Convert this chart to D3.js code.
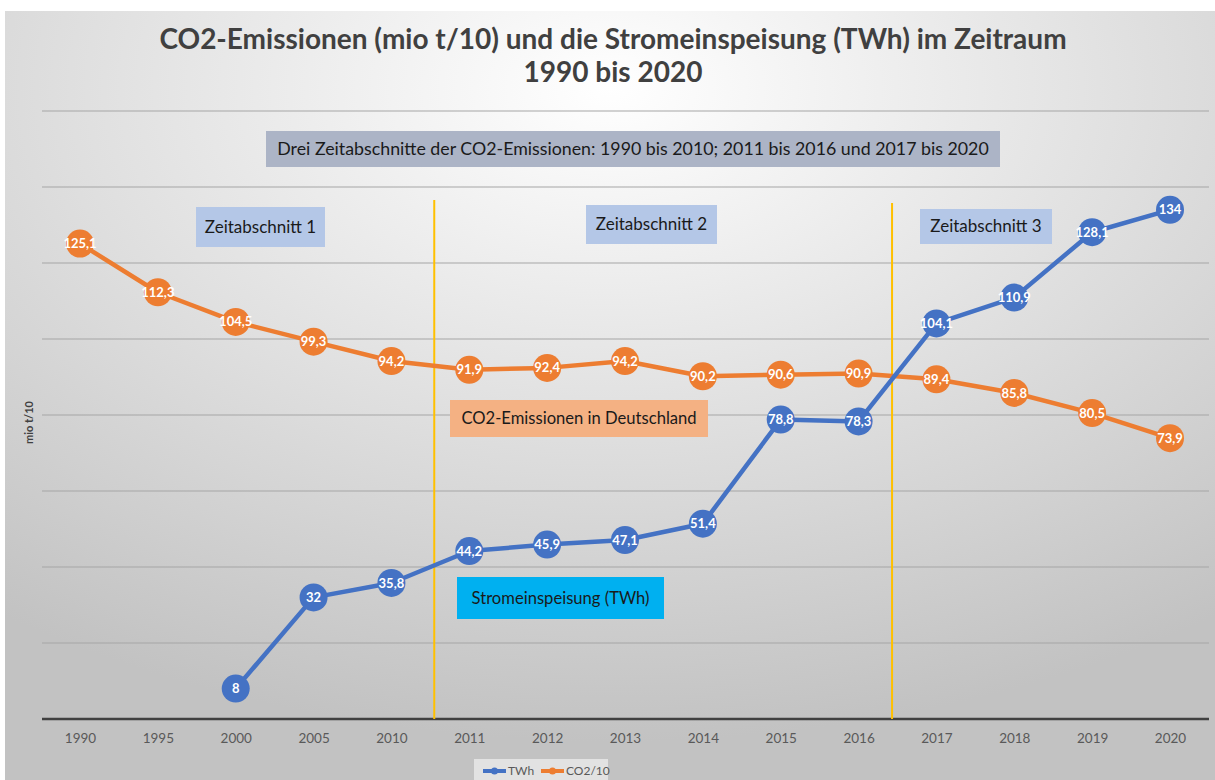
<!DOCTYPE html>
<html>
<head>
<meta charset="utf-8">
<script src="https://cdn.jsdelivr.net/npm/d3@7"></script>
<style>
  body { margin: 0; background: #fff; }
  text { font-family: Lato, "Open Sans", sans-serif; }
</style>
</head>
<body>
<div class="main"></div>
<script>
var years = ["1990","1995","2000","2005","2010","2011","2012","2013","2014","2015","2016","2017","2018","2019","2020"];
var twh = [null, null, 8, 32, 35.8, 44.2, 45.9, 47.1, 51.4, 78.8, 78.3, 104.1, 110.9, 128.1, 134];
var co2 = [125.1, 112.3, 104.5, 99.3, 94.2, 91.9, 92.4, 94.2, 90.2, 90.6, 90.9, 89.4, 85.8, 80.5, 73.9];
var yTicks = [0, 20, 40, 60, 80, 100, 120, 140, 160];

var width = 1215;
var height = 780;
var blue = "#4472c4";
var orange = "#ed7d31";

var svg = d3.select(".main")
    .append("svg")
        .attr("width", width)
        .attr("height", height);

var defs = svg.append("defs");
var grad = defs.append("radialGradient")
    .attr("id", "bg")
    .attr("cx", "50%").attr("cy", "10%").attr("r", "85%");
grad.append("stop").attr("offset", "0%").attr("stop-color", "#ffffff");
grad.append("stop").attr("offset", "100%").attr("stop-color", "#c2c2c2");

svg.append("rect")
    .attr("x", 5).attr("y", 11)
    .attr("width", width - 5).attr("height", height - 11)
    .style("fill", "url(#bg)");

// title
var title = svg.append("text")
    .attr("text-anchor", "middle")
    .style("font-size", "28px")
    .style("font-weight", "bold")
    .style("fill", "#404040");
title.append("tspan").attr("x", 613).attr("y", 49)
    .text("CO2-Emissionen (mio t/10) und die Stromeinspeisung (TWh) im Zeitraum");
title.append("tspan").attr("x", 613).attr("y", 82)
    .text("1990 bis 2020");

var xScale = d3.scalePoint()
    .domain(years)
    .range([80, 1170]);
var step = xScale.step();

var yScale = d3.scaleLinear()
    .domain([0, 160])
    .range([719, 111]);

// gridlines
svg.append("g").selectAll("line")
    .data(yTicks.slice(1))
    .enter()
    .append("line")
    .attr("x1", 42).attr("x2", 1209)
    .attr("y1", d => yScale(d)).attr("y2", d => yScale(d))
    .style("stroke", "#a6a6a6")
    .style("stroke-width", 1.2);

// x axis
var xAxis = d3.axisBottom(xScale).tickSize(0).tickPadding(14);
var xAxisGroup = svg.append("g")
    .attr("transform", "translate(0," + yScale(0) + ")")
    .call(xAxis);
xAxisGroup.select(".domain").remove();
xAxisGroup.selectAll("text")
    .style("font-size", "13.5px")
    .style("fill", "#595959")
    .style("font-family", "Lato, sans-serif");
svg.append("line")
    .attr("x1", 42).attr("x2", 1209)
    .attr("y1", yScale(0)).attr("y2", yScale(0))
    .style("stroke", "#404040")
    .style("stroke-width", 2.5);

// y axis title
svg.append("text")
    .attr("transform", "translate(33," + yScale(78) + ") rotate(-90)")
    .attr("text-anchor", "middle")
    .style("font-size", "11px")
    .style("font-weight", "bold")
    .style("fill", "#404040")
    .text("mio t/10");

// period dividers
var dividers = [
    {x: xScale("2010") + step * 0.55, top: 200},
    {x: xScale("2016") + step * 0.43, top: 203}
];
svg.append("g").selectAll("line")
    .data(dividers)
    .enter()
    .append("line")
    .attr("x1", d => d.x).attr("x2", d => d.x)
    .attr("y1", d => d.top).attr("y2", yScale(0))
    .style("stroke", "#ffc000")
    .style("stroke-width", 2);

// annotation boxes
var notes = [
    {text: "Drei Zeitabschnitte der CO2-Emissionen: 1990 bis 2010; 2011 bis 2016 und 2017 bis 2020", x: 266, y: 131, w: 734, h: 36, fill: "#acb4c6", size: 17.8},
    {text: "Zeitabschnitt 1", x: 196, y: 207, w: 129, h: 40, fill: "#b4c7e7", size: 17},
    {text: "Zeitabschnitt 2", x: 586, y: 205, w: 131, h: 39, fill: "#b4c7e7", size: 17},
    {text: "Zeitabschnitt 3", x: 920, y: 209, w: 132, h: 35, fill: "#b4c7e7", size: 17},
    {text: "CO2-Emissionen in Deutschland", x: 450, y: 400, w: 258, h: 37, fill: "#f4b183", size: 16.6},
    {text: "Stromeinspeisung (TWh)", x: 457, y: 577, w: 207, h: 42, fill: "#00b0f0", size: 16.6}
];
var noteG = svg.append("g").selectAll("g")
    .data(notes)
    .enter()
    .append("g");
noteG.append("rect")
    .attr("x", d => d.x).attr("y", d => d.y)
    .attr("width", d => d.w).attr("height", d => d.h)
    .style("fill", d => d.fill);
noteG.append("text")
    .attr("x", d => d.x + d.w / 2)
    .attr("y", d => d.y + d.h / 2)
    .attr("dy", "0.35em")
    .attr("text-anchor", "middle")
    .style("font-size", d => d.size + "px")
    .style("fill", "#1a1a1a")
    .text(d => d.text);

// lines
function drawSeries(values, color) {
    var pts = years.map((y, i) => ({year: y, v: values[i]})).filter(d => d.v != null);
    var line = d3.line()
        .x(d => xScale(d.year))
        .y(d => yScale(d.v));
    var g = svg.append("g");
    g.append("path")
        .datum(pts)
        .attr("d", line)
        .style("fill", "none")
        .style("stroke", color)
        .style("stroke-width", 4.5)
        .style("stroke-linejoin", "round");
    g.selectAll("circle")
        .data(pts)
        .enter()
        .append("circle")
        .attr("cx", d => xScale(d.year))
        .attr("cy", d => yScale(d.v))
        .attr("r", 14)
        .style("fill", color);
    g.selectAll("text")
        .data(pts)
        .enter()
        .append("text")
        .attr("x", d => xScale(d.year))
        .attr("y", d => yScale(d.v))
        .attr("dy", "0.35em")
        .attr("text-anchor", "middle")
        .style("font-size", "13px")
        .style("font-weight", "bold")
        .style("fill", "#ffffff")
        .text(d => String(d.v).replace(".", ","));
}
drawSeries(co2, orange);
drawSeries(twh, blue);

// legend
var legend = svg.append("g");
legend.append("rect")
    .attr("x", 474).attr("y", 759)
    .attr("width", 134).attr("height", 21)
    .style("fill", "#e2e2e2");
var legendItems = [
    {name: "TWh", color: blue, x: 483},
    {name: "CO2/10", color: orange, x: 541}
];
var li = legend.selectAll("g")
    .data(legendItems)
    .enter()
    .append("g");
li.append("line")
    .attr("x1", d => d.x).attr("x2", d => d.x + 23)
    .attr("y1", 771).attr("y2", 771)
    .style("stroke", d => d.color)
    .style("stroke-width", 4);
li.append("circle")
    .attr("cx", d => d.x + 11.5).attr("cy", 771).attr("r", 3.5)
    .style("fill", d => d.color);
li.append("text")
    .attr("x", d => d.x + 25).attr("y", 771)
    .attr("dy", "0.35em")
    .style("font-size", "12px")
    .style("fill", "#595959")
    .text(d => d.name);
</script>
</body>
</html>
